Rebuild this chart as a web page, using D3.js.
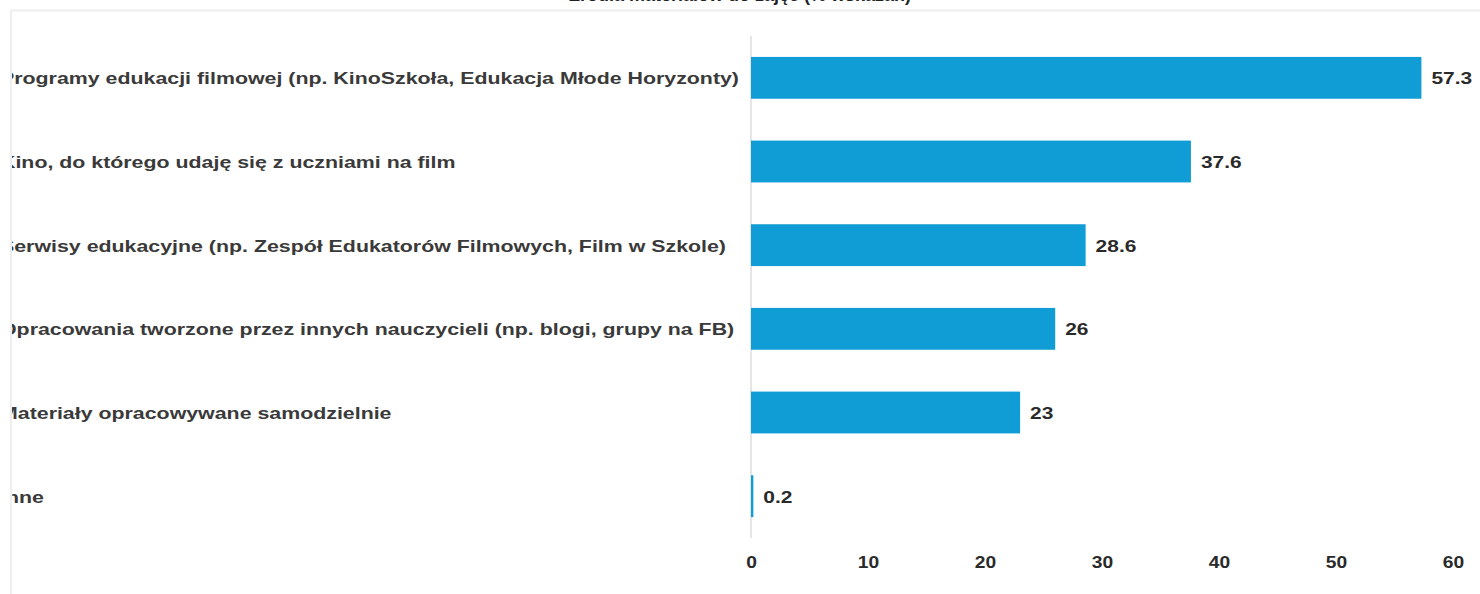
<!DOCTYPE html>
<html><head><meta charset="utf-8">
<script src="https://cdn.jsdelivr.net/npm/d3@7"></script>
<style>
html,body{margin:0;padding:0;background:#fff;}
svg{display:block;font-family:"Liberation Sans",Arial,sans-serif;}
</style></head>
<body>
<svg id="chart" width="1480" height="594"></svg>
<script>
const titleText = "Źródła materiałów do zajęć (% wskazań)";
const categories = [
  "Programy edukacji filmowej (np. KinoSzkoła, Edukacja Młode Horyzonty)",
  "Kino, do którego udaję się z uczniami na film",
  "Serwisy edukacyjne (np. Zespół Edukatorów Filmowych, Film w Szkole)",
  "Opracowania tworzone przez innych nauczycieli (np. blogi, grupy na FB)",
  "Materiały opracowywane samodzielnie",
  "Inne"
];
const values = [57.3, 37.6, 28.6, 26, 23, 0.2];
const xTicks = [0, 10, 20, 30, 40, 50, 60];

const svg = d3.select("#chart");
const W = 1480, H = 594;
const SX = 1.335; // horizontal stretch of the text in the reference

// frame lines
svg.append("line").attr("x1", 10).attr("x2", W).attr("y1", 10.5).attr("y2", 10.5)
  .attr("stroke", "#eeeeee").attr("stroke-width", 2);
svg.append("line").attr("x1", 11).attr("x2", 11).attr("y1", 10).attr("y2", H)
  .attr("stroke", "#eeeeee").attr("stroke-width", 2);

// title (mostly cut off at top, as in the reference)
svg.append("text").attr("x", W / 2).attr("y", 1)
  .attr("text-anchor", "middle").attr("font-size", 18).attr("font-weight", "bold")
  .attr("fill", "#222").text(titleText);

const defs = svg.append("defs");
defs.append("clipPath").attr("id", "clip").append("rect")
  .attr("x", 12).attr("y", 12).attr("width", W - 12).attr("height", H - 12);

const g = svg.append("g").attr("clip-path", "url(#clip)");

const x = d3.scaleLinear().domain([0, 60]).range([751, 1453]);
const y = d3.scaleBand().domain(categories).range([36, 538]).paddingInner(0.5).paddingOuter(0.25);

// zero line
g.append("line").attr("x1", x(0)).attr("x2", x(0)).attr("y1", 36).attr("y2", 538)
  .attr("stroke", "#dddddd").attr("stroke-width", 1.5);

// category labels
g.selectAll("text.cat").data(categories).join("text").attr("class", "cat")
  .attr("transform", d => `translate(0,${y(d) + y.bandwidth() / 2 + 1}) scale(${SX},1)`)
  .attr("dy", "0.35em")
  .attr("font-size", 16).attr("font-weight", "bold").attr("fill", "#3a3a3a")
  .text(d => d);

// bars
g.selectAll("rect.bar").data(values).join("rect").attr("class", "bar")
  .attr("x", x(0)).attr("y", (d, i) => y(categories[i]))
  .attr("width", d => x(d) - x(0)).attr("height", y.bandwidth())
  .attr("fill", "#109dd6");

// value labels
g.selectAll("text.val").data(values).join("text").attr("class", "val")
  .attr("transform", (d, i) => `translate(${x(d) + 10},${y(categories[i]) + y.bandwidth() / 2 + 1}) scale(${SX * 0.98},1)`)
  .attr("dy", "0.35em").attr("font-size", 16).attr("font-weight", "bold").attr("fill", "#2a2a2a")
  .text(d => d);

// x axis
const axis = d3.axisBottom(x).tickValues(xTicks).tickSize(0).tickPadding(0).tickFormat(d3.format("d"));
const ax = g.append("g").attr("transform", "translate(0,557)").call(axis);
ax.select(".domain").remove();
ax.selectAll("text").attr("font-size", 16).attr("font-weight", "bold").attr("fill", "#2a2a2a")
  .attr("font-family", "'Liberation Sans',Arial,sans-serif").attr("dy", "0.71em")
  .attr("transform", `scale(${SX * 0.9},1)`);
</script>
</body></html>
